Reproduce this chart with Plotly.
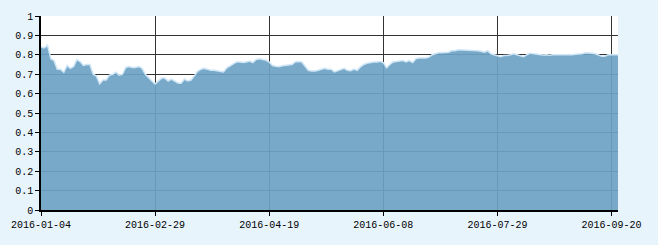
import pandas as pd
import plotly.graph_objects as go

# Trading calendar (SSE 2016) used as categories
start_date = "2016-01-04"
end_date = "2016-09-22"
holidays = ["2016-02-08", "2016-02-09", "2016-02-10", "2016-02-11", "2016-02-12",
            "2016-04-04", "2016-05-02", "2016-06-09", "2016-06-10",
            "2016-09-15", "2016-09-16"]
dates = [d.strftime("%Y-%m-%d") for d in pd.bdate_range(start_date, end_date)
         if d.strftime("%Y-%m-%d") not in holidays]

values = [
    0.84, 0.835, 0.85, 0.78, 0.77, 0.725, 0.725, 0.71, 0.745, 0.73,
    0.74, 0.775, 0.765, 0.745, 0.75, 0.75, 0.70, 0.69, 0.65, 0.67,
    0.67, 0.695, 0.70, 0.71, 0.695, 0.70, 0.735, 0.74, 0.735, 0.735,
    0.74, 0.73, 0.70, 0.68, 0.665, 0.65, 0.665, 0.68, 0.68, 0.665,
    0.675, 0.665, 0.655, 0.653, 0.675, 0.665, 0.67, 0.69, 0.715, 0.725,
    0.73, 0.726, 0.72, 0.72, 0.718, 0.716, 0.712, 0.733, 0.743, 0.755,
    0.763, 0.763, 0.76, 0.763, 0.768, 0.76, 0.776, 0.78, 0.776, 0.772,
    0.763, 0.745, 0.741, 0.738, 0.743, 0.746, 0.746, 0.75, 0.763, 0.766,
    0.763, 0.74, 0.72, 0.716, 0.716, 0.72, 0.726, 0.73, 0.726, 0.726,
    0.712, 0.718, 0.726, 0.73, 0.72, 0.718, 0.726, 0.72, 0.738, 0.75,
    0.756, 0.76, 0.763, 0.763, 0.766, 0.76, 0.733, 0.75, 0.763, 0.766,
    0.768, 0.77, 0.763, 0.77, 0.76, 0.78, 0.783, 0.783, 0.783, 0.788,
    0.80, 0.805, 0.81, 0.81, 0.81, 0.813, 0.821, 0.821, 0.826, 0.825,
    0.826, 0.825, 0.825, 0.821, 0.821, 0.818, 0.813, 0.821, 0.805, 0.80,
    0.796, 0.79, 0.796, 0.796, 0.80, 0.805, 0.80, 0.793, 0.79, 0.80,
    0.808, 0.806, 0.803, 0.80, 0.799, 0.80, 0.798, 0.80, 0.80, 0.801,
    0.80, 0.799, 0.80, 0.80, 0.803, 0.803, 0.806, 0.81, 0.81, 0.808,
    0.805, 0.80, 0.793, 0.793, 0.80, 0.80, 0.80, 0.80,
]

tick_labels = ["2016-01-04", "2016-02-29", "2016-04-19",
               "2016-06-08", "2016-07-29", "2016-09-20"]

n = min(len(dates), len(values))
dates = dates[:n]
values = values[:n]

fig = go.Figure()
fig.add_trace(go.Scatter(
    x=dates, y=values, mode="lines", fill="tozeroy",
    fillcolor="rgba(108,162,196,0.92)",
    line=dict(color="#cfe6f6", width=1.5),
    hoverinfo="skip", showlegend=False,
))

font = dict(family="Liberation Mono", size=10, color="#000000")
fig.update_layout(
    width=658, height=245,
    margin=dict(l=39, r=40, t=11, b=35),
    paper_bgcolor="#e8f4fc",
    plot_bgcolor="#ffffff",
    font=font,
    xaxis=dict(
        type="category", range=[0, n - 1],
        tickmode="array", tickvals=tick_labels, ticktext=tick_labels,
        showgrid=True, gridcolor="#333333", gridwidth=1,
        showline=True, linecolor="#000000", linewidth=1.5,
        ticks="outside", ticklen=4, tickcolor="#000000",
        tickfont=font, zeroline=False,
    ),
    yaxis=dict(
        range=[0, 1], dtick=0.1, tick0=0,
        showgrid=True, gridcolor="#333333", gridwidth=1,
        showline=True, linecolor="#000000", linewidth=1.5,
        ticks="outside", ticklen=4, tickcolor="#000000",
        tickfont=font, zeroline=False,
    ),
)

fig.write_html("out.html")
